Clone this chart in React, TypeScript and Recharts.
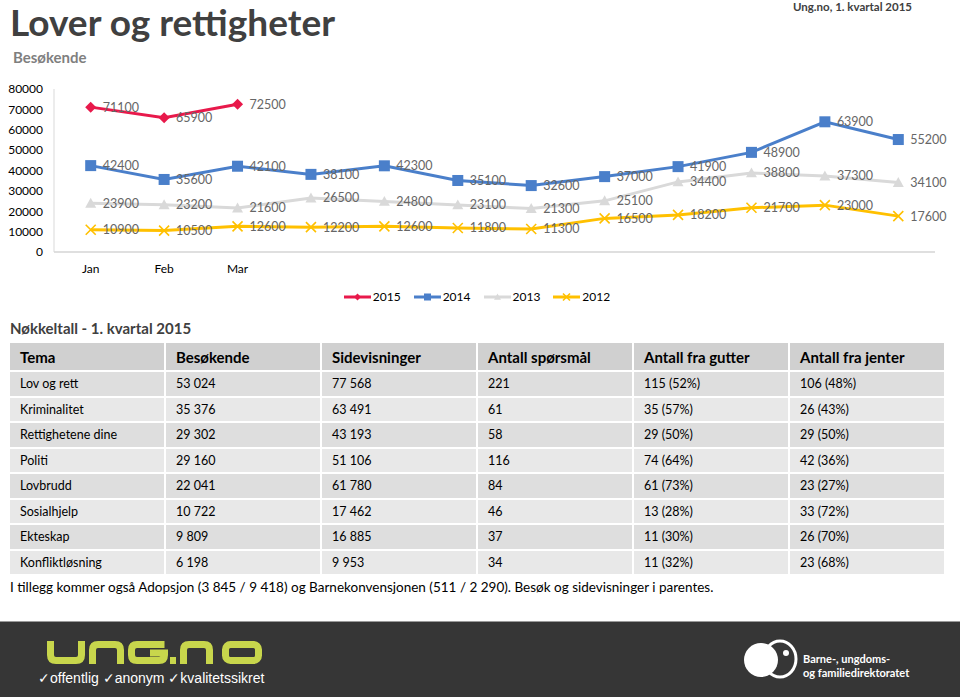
import React from 'react';
import { LineChart, Line, XAxis, YAxis, Legend, LabelList } from 'recharts';

// Besøkende per måned, lest av grafen
const months = ['Jan', 'Feb', 'Mar', 'Apr', 'Mai', 'Jun', 'Jul', 'Aug', 'Sep', 'Okt', 'Nov', 'Des'];
const tickLabels = ['Jan', 'Feb', 'Mar', '', '', '', '', '', '', '', '', ''];
const visits2015 = [71100, 65900, 72500];
const visits2014 = [42400, 35600, 42100, 38100, 42300, 35100, 32600, 37000, 41900, 48900, 63900, 55200];
const visits2013 = [23900, 23200, 21600, 26500, 24800, 23100, 21300, 25100, 34400, 38800, 37300, 34100];
const visits2012 = [10900, 10500, 12600, 12200, 12600, 11800, 11300, 16500, 18200, 21700, 23000, 17600];
const yTicks = [0, 10000, 20000, 30000, 40000, 50000, 60000, 70000, 80000];

// Nøkkeltall-tabellen
const headers = ['Tema', 'Besøkende', 'Sidevisninger', 'Antall spørsmål', 'Antall fra gutter', 'Antall fra jenter'];
const topics = ['Lov og rett', 'Kriminalitet', 'Rettighetene dine', 'Politi', 'Lovbrudd', 'Sosialhjelp', 'Ekteskap', 'Konfliktløsning'];
const visitors = ['53 024', '35 376', '29 302', '29 160', '22 041', '10 722', '9 809', '6 198'];
const pageviews = ['77 568', '63 491', '43 193', '51 106', '61 780', '17 462', '16 885', '9 953'];
const questions = ['221', '61', '58', '116', '84', '46', '37', '34'];
const fromBoys = ['115 (52%)', '35 (57%)', '29 (50%)', '74 (64%)', '61 (73%)', '13 (28%)', '11 (30%)', '11 (32%)'];
const fromGirls = ['106 (48%)', '26 (43%)', '29 (50%)', '42 (36%)', '23 (27%)', '33 (72%)', '26 (70%)', '23 (68%)'];

const FONT = 'Lato, "Noto Sans", sans-serif';

const series = [
  { key: 'y2015', name: '2015', color: '#E8194B', shape: 'diamond', size: 11 },
  { key: 'y2014', name: '2014', color: '#4A7FCA', shape: 'square', size: 11 },
  { key: 'y2013', name: '2013', color: '#D9D9D9', shape: 'triangle', size: 11 },
  { key: 'y2012', name: '2012', color: '#FFC000', shape: 'cross', size: 10 },
];

const chartData = months.map((m, i) => ({
  month: m,
  y2015: visits2015[i] ?? null,
  y2014: visits2014[i] ?? null,
  y2013: visits2013[i] ?? null,
  y2012: visits2012[i] ?? null,
}));

function marker(shape: string, cx: number, cy: number, s: number, color: string) {
  const h = s / 2;
  if (shape === 'diamond')
    return <path d={`M${cx},${cy - h}L${cx + h},${cy}L${cx},${cy + h}L${cx - h},${cy}Z`} fill={color} />;
  if (shape === 'square') return <rect x={cx - h} y={cy - h} width={s} height={s} fill={color} />;
  if (shape === 'triangle')
    return <path d={`M${cx},${cy - h}L${cx + h},${cy + h * 0.8}L${cx - h},${cy + h * 0.8}Z`} fill={color} />;
  return (
    <path
      d={`M${cx - h},${cy - h}L${cx + h},${cy + h}M${cx + h},${cy - h}L${cx - h},${cy + h}`}
      stroke={color}
      strokeWidth={1.6}
      fill="none"
    />
  );
}

function renderLegend() {
  return (
    <div style={{ display: 'flex', justifyContent: 'center', gap: 13, fontSize: 12, fontFamily: FONT, color: '#000', paddingRight: 6 }}>
      {series.map((s) => (
        <div key={s.key} style={{ display: 'flex', alignItems: 'center', gap: 2 }}>
          <svg width={27} height={12}>
            <line x1={0} y1={6} x2={27} y2={6} stroke={s.color} strokeWidth={3} />
            {marker(s.shape, 13.5, 6, 7, s.color)}
          </svg>
          <span>{s.name}</span>
        </div>
      ))}
    </div>
  );
}

function VisitorsChart() {
  return (
    <LineChart
      width={960}
      height={230}
      data={chartData}
      margin={{ top: 9, right: 25, left: 0, bottom: 1 }}
      style={{ fontFamily: FONT }}
    >
      <XAxis
        dataKey="month"
        height={37}
        padding={{ left: 36.7, right: 36.7 }}
        tickLine={false}
        axisLine={{ stroke: '#bfbfbf' }}
        tickMargin={6}
        tick={{ fill: '#000', fontSize: 12 }}
        tickFormatter={(_v: string, i: number) => tickLabels[i]}
        interval={0}
      />
      <YAxis
        width={54}
        domain={[0, 80000]}
        ticks={yTicks}
        interval={0}
        tickLine={false}
        axisLine={{ stroke: '#d9d9d9' }}
        tickMargin={5}
        tick={{ fill: '#000', fontSize: 12 }}
      />
      <Legend verticalAlign="bottom" height={20} wrapperStyle={{ left: 0, width: 960 }} content={renderLegend} />
      {series.map((s) => (
        <Line
          key={s.key}
          dataKey={s.key}
          name={s.name}
          stroke={s.color}
          strokeWidth={3}
          isAnimationActive={false}
          dot={(p: any) => (
            <g key={`${s.key}-${p.index}`}>{p.cy == null || p.value == null ? null : marker(s.shape, p.cx, p.cy, s.size, s.color)}</g>
          )}
          activeDot={false}
        >
          <LabelList dataKey={s.key} position="right" offset={12} fill="#666666" fontSize={12.5} />
        </Line>
      ))}
    </LineChart>
  );
}

function KeyTable() {
  const cols = [topics, visitors, pageviews, questions, fromBoys, fromGirls];
  return (
    <div
      style={{
        position: 'absolute',
        left: 10,
        top: 343,
        width: 934,
        display: 'grid',
        gridTemplateColumns: 'repeat(6, 1fr)',
        gridTemplateRows: '27px repeat(8, 23.5px)',
        gap: 2,
        fontFamily: FONT,
        color: '#000',
      }}
    >
      {headers.map((h) => (
        <div key={h} style={{ background: '#d0d0d0', fontWeight: 700, fontSize: 15, display: 'flex', alignItems: 'center', paddingLeft: 10 }}>
          {h}
        </div>
      ))}
      {topics.map((_t, r) =>
        cols.map((col, c) => (
          <div
            key={`${r}-${c}`}
            style={{ background: r % 2 === 0 ? '#dedede' : '#e8e8e8', fontSize: 12.5, display: 'flex', alignItems: 'center', paddingLeft: 10 }}
          >
            {col[r]}
          </div>
        ))
      )}
    </div>
  );
}

function Footer() {
  const lime = '#C8D64C';
  return (
    <div style={{ position: 'absolute', left: 0, top: 621, width: 960, height: 76, background: '#363636', borderTop: '1px solid #9a9a9a', boxSizing: 'border-box' }}>
      <svg width={960} height={76} style={{ position: 'absolute', left: 0, top: 0 }}>
        <g fill="none" stroke={lime} strokeWidth={7}>
          <path d="M50.5 19V33Q50.5 38.5 56 38.5H76Q81.5 38.5 81.5 33V19" />
          <path d="M92.5 42V28Q92.5 22.5 98 22.5H115Q120.5 22.5 120.5 28V42" />
          <path d="M164.5 22.5H137Q131.5 22.5 131.5 28V33Q131.5 38.5 137 38.5H159Q164.5 38.5 164.5 33V31H150" />
          <path d="M183.5 42V28Q183.5 22.5 189 22.5H204Q209.5 22.5 209.5 28V42" />
          <rect x={225.5} y={22.5} width={33} height={16} rx={5} />
        </g>
        <rect x={170} y={35} width={6} height={7} fill={lime} />
        <ellipse cx={780} cy={37} rx={16} ry={18} fill="#363636" stroke="#fff" strokeWidth={3} />
        <circle cx={761} cy={38} r={17} fill="#fff" />
        <circle cx={771} cy={31} r={3} fill="#fff" />
        <circle cx={786} cy={31} r={3} fill="#fff" />
      </svg>
      <div
        style={{
          position: 'absolute',
          left: 38,
          top: 49,
          fontFamily: '"Liberation Sans", Arial, sans-serif',
          fontSize: 14,
          color: '#fff',
          whiteSpace: 'nowrap',
          lineHeight: 1,
        }}
      >
        ✓offentlig ✓anonym ✓kvalitetssikret
      </div>
      <div style={{ position: 'absolute', left: 803, top: 30, fontFamily: FONT, fontSize: 11, fontWeight: 700, color: '#fff', lineHeight: '14px' }}>
        Barne-, ungdoms-
        <br />
        og familiedirektoratet
      </div>
    </div>
  );
}

export default function App() {
  return (
    <div style={{ position: 'absolute', left: 0, top: 0, width: 960, height: 697, background: '#fff', overflow: 'hidden', fontFamily: FONT }}>
      <div style={{ position: 'absolute', left: 10, top: 3, fontSize: 37, fontWeight: 700, color: '#404040', lineHeight: 1, whiteSpace: 'nowrap' }}>
        Lover og rettigheter
      </div>
      <div style={{ position: 'absolute', left: 13, top: 50, fontSize: 15, fontWeight: 700, color: '#7f7f7f', lineHeight: 1 }}>Besøkende</div>
      <div style={{ position: 'absolute', right: 48, top: 1, fontSize: 11.5, fontWeight: 700, color: '#404040', lineHeight: 1.1, whiteSpace: 'nowrap' }}>
        Ung.no, 1. kvartal 2015
      </div>
      <div style={{ position: 'absolute', left: 0, top: 80 }}>
        <VisitorsChart />
      </div>
      <div style={{ position: 'absolute', left: 10, top: 321, fontSize: 15, fontWeight: 700, color: '#404040', lineHeight: 1, whiteSpace: 'nowrap' }}>
        Nøkkeltall - 1. kvartal 2015
      </div>
      <KeyTable />
      <div style={{ position: 'absolute', left: 10, top: 581, fontSize: 13.5, color: '#000', lineHeight: 1, whiteSpace: 'nowrap' }}>
        I tillegg kommer også Adopsjon (3 845 / 9 418) og Barnekonvensjonen (511 / 2 290). Besøk og sidevisninger i parentes.
      </div>
      <Footer />
    </div>
  );
}
